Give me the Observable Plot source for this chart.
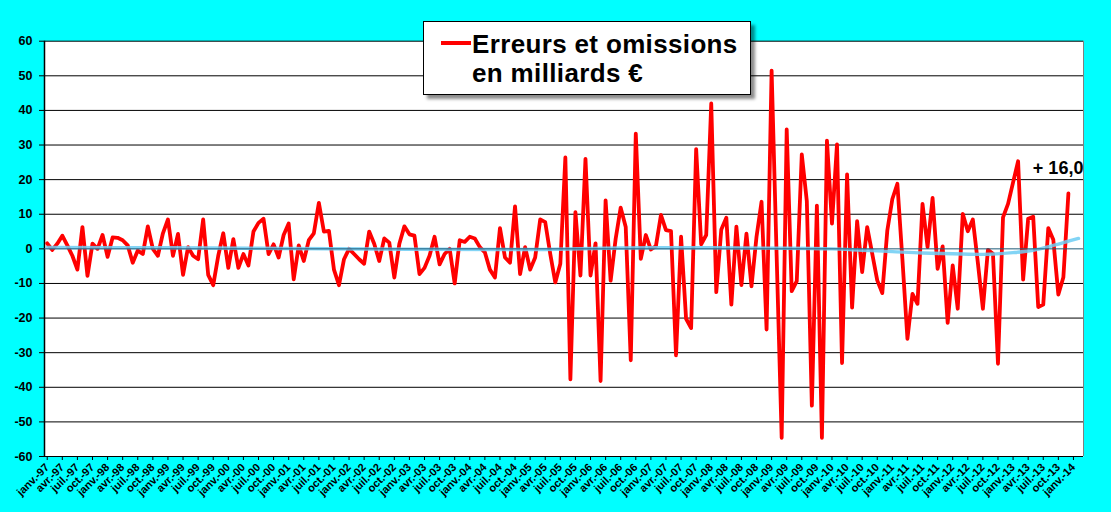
<!DOCTYPE html>
<html>
<head>
<meta charset="utf-8">
<script src="https://cdn.jsdelivr.net/npm/d3@7"></script>
<script src="https://cdn.jsdelivr.net/npm/@observablehq/plot@0.6"></script>
<style>
html, body { margin: 0; padding: 0; background: #00ffff; }
#wrap { position: relative; width: 1111px; height: 512px; overflow: hidden; background: #00ffff; font-family: "Liberation Sans", Arial, sans-serif; }
#legend { position: absolute; left: 423px; top: 21px; width: 326px; height: 72px; background: #fff; border: 1px solid #000; box-shadow: 4px 4px 3px rgba(0,0,0,0.45); }
#legend .swatch { position: absolute; left: 17px; top: 18.5px; width: 30px; height: 4px; background: #ff0000; }
#legend .txt { position: absolute; left: 48px; top: 8px; font-weight: bold; font-size: 26px; letter-spacing: 0.35px; line-height: 29px; color: #000; white-space: nowrap; }
</style>
</head>
<body>
<div id="wrap">
  <div id="chart"></div>
  <div id="legend"><div class="swatch"></div><div class="txt" id="legendText"></div></div>
</div>
<script>
// Monthly "Erreurs et omissions" (milliards €), janv. 1997 -> déc. 2013
const startYear = 1997;
const errors = [
  // 1997
  1.6, -0.3, 1.5, 3.8, 1.0, -2.0, -6.0, 6.3, -7.8, 1.5, 0.0, 4.0,
  // 1998
  -2.3, 3.3, 3.2, 2.5, 1.0, -4.0, -0.5, -1.5, 6.5, 0.0, -2.0, 4.5,
  // 1999
  8.5, -2.0, 4.3, -7.5, 0.5, -2.0, -3.0, 8.5, -7.5, -10.5, -2.0, 4.5,
  // 2000
  -5.5, 2.8, -5.5, -1.5, -4.8, 5.0, 7.5, 8.7, -1.5, 1.3, -2.5, 4.0,
  // 2001
  7.3, -8.8, 1.0, -3.5, 2.5, 4.5, 13.3, 5.0, 5.2, -6.0, -10.5, -3.0,
  // 2002
  0.0, -1.5, -3.0, -4.3, 5.0, 1.5, -3.5, 3.0, 1.8, -8.3, 1.5, 6.5,
  // 2003
  4.2, 3.8, -7.3, -5.5, -2.0, 3.5, -4.5, -1.5, 0.0, -10.0, 2.5, 2.0,
  // 2004
  3.5, 3.0, 0.5, -1.0, -6.0, -8.3, 6.0, -2.5, -4.0, 12.3, -7.3, 0.5,
  // 2005
  -6.0, -2.5, 8.5, 7.7, -1.5, -9.7, -4.3, 26.4, -37.7, 10.6, -7.7, 26.0,
  // 2006
  -7.7, 1.6, -38.2, 14.0, -9.2, 2.9, 11.9, 6.3, -32.2, 33.3, -2.9, 4.0,
  // 2007
  -0.2, 0.8, 9.8, 5.4, 5.1, -30.8, 3.5, -20.2, -22.9, 28.8, 1.3, 4.0,
  // 2008
  42.0, -12.5, 5.6, 9.0, -16.1, 6.4, -10.5, 4.4, -10.8, 3.5, 13.6, -23.3,
  // 2009
  51.5, -2.0, -54.6, 34.5, -12.2, -9.3, 27.3, 13.8, -45.3, 12.5, -54.6, 31.3,
  // 2010
  7.3, 30.2, -33.0, 21.5, -17.0, 8.0, -6.7, 6.3, -1.4, -9.1, -12.8, 5.3,
  // 2011
  14.4, 18.8, -3.0, -26.0, -13.0, -15.9, 13.0, 0.5, 14.7, -5.8, 0.7, -21.4,
  // 2012
  -4.8, -17.3, 10.1, 5.1, 8.5, -4.0, -17.3, -0.3, -1.4, -33.2, 9.1, 13.0,
  // 2013
  19.2, 25.3, -8.9, 8.7, 9.3, -16.8, -16.1, 6.0, 2.6, -13.2, -8.2, 16.0
];

// Smoothed trend (light blue), month index -> value
const trendMonth = [0, 24, 48, 72, 96, 108, 120, 132, 144, 156, 162, 168, 174, 180, 186, 192, 196, 200, 203, 205];
const trendValue = [0.4, 0.3, 0.1, -0.1, -0.2, 0.1, 0.3, 0.3, 0.2, 0.0, -0.4, -0.8, -1.2, -1.4, -1.6, -1.1, -0.4, 1.0, 2.2, 3.0];

// Axis ticks and labels
const yTicks = [-60, -50, -40, -30, -20, -10, 0, 10, 20, 30, 40, 50, 60];
const quarterNames = ["janv.", "avr.", "juil.", "oct."];
const labelYears = ["97","98","99","00","01","02","03","04","05","06","07","08","09","10","11","12","13","14"];
const tickLabels = [];
labelYears.forEach((yy, yi) => quarterNames.forEach((q, qi) => {
  if (yi < labelYears.length - 1 || qi === 0) tickLabels.push(q + "-" + yy);
}));
const tickMonths = tickLabels.map((_, i) => i * 3);
const labelOf = new Map(tickMonths.map((m, i) => [m, tickLabels[i]]));

const legendLines = ["Erreurs et omissions", "en milliards €"];
document.getElementById("legendText").innerHTML = legendLines.join("<br>");

const data = errors.map((v, i) => ({m: i, v}));
const trend = trendMonth.map((m, i) => ({m, v: trendValue[i]}));
const last = data[data.length - 1];

const xDomain = [-0.54, 206.0];

const chart = Plot.plot({
  width: 1111,
  height: 512,
  marginLeft: 44,
  marginRight: 28,
  marginTop: 40.7,
  marginBottom: 56,
  style: {background: "transparent", fontFamily: "Liberation Sans, Arial, sans-serif", color: "#000"},
  x: {type: "linear", domain: xDomain},
  y: {domain: [-60, 60]},
  marks: [
    Plot.frame({fill: "#ffffff", stroke: null}),
    Plot.ruleY(yTicks.filter(t => t !== 0 && t !== -60), {stroke: "#000", strokeWidth: 1}),
    Plot.ruleX([xDomain[1]], {stroke: "#808080", strokeWidth: 1}),
    Plot.ruleY([-60], {stroke: "#000", strokeWidth: 1.2}),
    Plot.ruleX([xDomain[0]], {stroke: "#000", strokeWidth: 1.5}),
    Plot.line(data, {x: "m", y: "v", stroke: "#ff0000", strokeWidth: 3.8}),
    Plot.line(trend, {x: "m", y: "v", curve: "monotone-x", stroke: "#6ccdf3", strokeWidth: 3.4, strokeOpacity: 0.85}),
    Plot.ruleY([0], {stroke: "#1f5a78", strokeWidth: 1}),
    Plot.axisY({ticks: yTicks, tickSize: 5, tickPadding: 7, tickFormat: d => String(d), fontSize: 12.5, fontWeight: "bold", label: null}),
    Plot.axisX({ticks: tickMonths, tickFormat: d => labelOf.get(d), tickRotate: -45, tickSize: 4, tickPadding: 5, fontSize: 11, fontWeight: "bold", label: null}),
    Plot.text([last], {x: "m", y: "v", text: d => "+ " + d.v.toFixed(1).replace(".", ","), textAnchor: "end", dx: 15, dy: -25, fontSize: 18, fontWeight: "bold", fill: "#000"})
  ]
});
document.getElementById("chart").appendChild(chart);
</script>
</body>
</html>
